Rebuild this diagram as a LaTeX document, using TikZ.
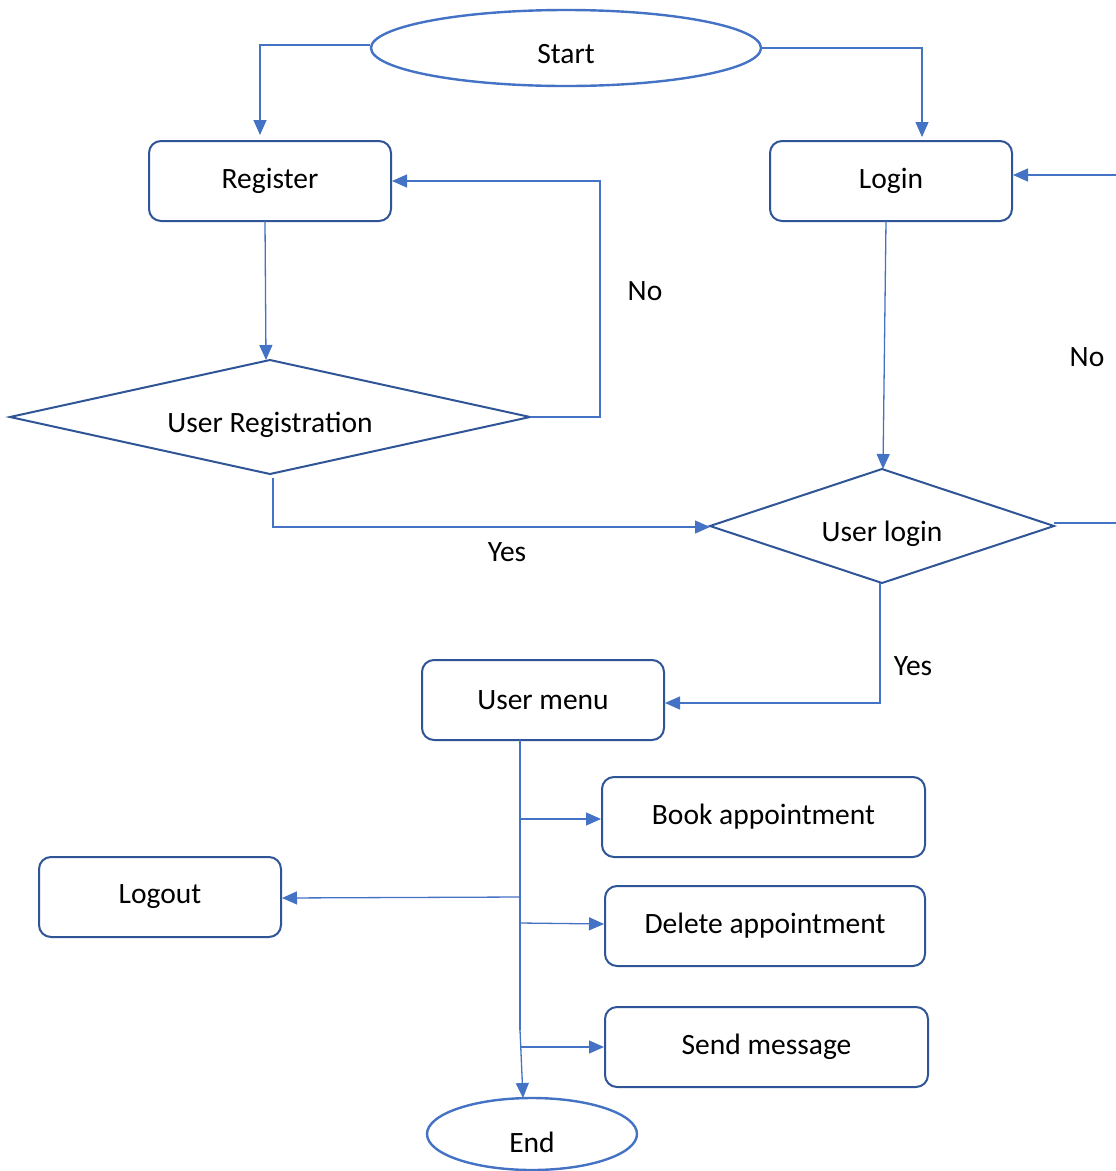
\documentclass[tikz,border=0pt]{standalone}
\usepackage{fontspec}
\setmainfont{Carlito}
\usetikzlibrary{arrows.meta,shapes.geometric}
\definecolor{edgeblue}{HTML}{4472C4}
\definecolor{boxblue}{HTML}{2F5597}
\tikzset{
  lbl/.style={font=\fontsize{29.5}{34}\selectfont, text=black},
  procbox/.style={draw=boxblue, line width=2pt, rounded corners=12pt, fill=white, lbl},
  term/.style={draw=edgeblue, line width=2.4pt, ellipse, fill=white, lbl},
  decide/.style={draw=boxblue, line width=2pt, fill=white, lbl},
  conn/.style={draw=edgeblue, line width=1.3pt, -{Triangle[length=15pt,width=13pt]}},
  plain/.style={draw=edgeblue, line width=1.3pt},
}
\begin{document}
\begin{tikzpicture}[x=1pt,y=-1pt]
\useasboundingbox (0,0) rectangle (1116,1171);
% nodes
\node[term, minimum width=390pt, minimum height=76pt] (start) at (566,48) {};
\node[lbl] (starttxt) at (566,54) {Start};
\node[procbox, minimum width=242pt, minimum height=80pt] (register) at (270,181) {};
\node[lbl] (registertxt) at (270,181) {Register};
\node[procbox, minimum width=242pt, minimum height=80pt] (login) at (891,181) {};
\node[lbl] (logintxt) at (891,181) {Login};
\draw[decide] (10,417) -- (270,360) -- (530,417) -- (270,474) -- cycle;
\node[lbl] (userreg) at (270,425) {User Registration};
\coordinate (urT) at (266,360);
\coordinate (urR) at (530,417);
\coordinate (urB) at (273,478);
\draw[decide] (710,526) -- (882,469) -- (1054,526) -- (882,583) -- cycle;
\node[lbl] (userlogin) at (882,534) {User login};
\coordinate (ulL) at (710,527);
\coordinate (ulT) at (883,469);
\coordinate (ulR) at (1054,523);
\coordinate (ulB) at (880,583);
\node[procbox, minimum width=242pt, minimum height=80pt] (menu) at (543,700) {};
\node[lbl] (menutxt) at (543,700) {User menu};
\node[procbox, minimum width=323pt, minimum height=80pt] (book) at (763.5,817) {};
\node[lbl] (booktxt) at (763.5,817) {Book appointment};
\node[procbox, minimum width=320pt, minimum height=80pt] (delete) at (765,926) {};
\node[lbl] (deletetxt) at (765,926) {Delete appointment};
\node[procbox, minimum width=323pt, minimum height=80pt] (send) at (766.5,1047) {};
\node[lbl] (sendtxt) at (766.5,1047) {Send message};
\node[procbox, minimum width=242pt, minimum height=80pt] (logout) at (160,897) {};
\node[lbl] (logouttxt) at (160,897) {Logout};
\node[term, minimum width=210pt, minimum height=72pt] (end) at (532,1134) {};
\node[lbl] (endtxt) at (532,1142) {End};
% connectors
\draw[conn] (start.west) ++(0,-3) -- (260,45) -- (260,135);
\draw[conn] (start.east) -- (922,48) -- (922,137);
\draw[conn] (265,221) -- (urT);
\draw[conn] (urR) -- (600,417) -- (600,181) -- (register.east);
\node[lbl] (no1) at (645,291) {No};
\draw[conn] (urB) -- (273,527) -- (ulL);
\node[lbl] (yes1) at (507,552) {Yes};
\draw[conn] (886,221) -- (ulT);
\coordinate (rightTop) at (1116,175);
\coordinate (rightBot) at (1116,523);
\draw[plain] (ulR) -- (rightBot);
\draw[conn] (rightTop) -- (login.east |- rightTop);
\node[lbl] (no2) at (1087,357) {No};
\draw[conn] (ulB) -- (880,703) -- (menu.east |- 0,703);
\node[lbl] (yes2) at (913,666) {Yes};
\draw[plain] (520,740) -- (520,1030);
\draw[conn] (520,1030) -- (523,1098);
\draw[conn] (520,819) -- (book.west |- 0,819);
\draw[conn] (520,923) -- (delete.west |- 0,924);
\draw[conn] (520,1047) -- (send.west |- 0,1047);
\draw[conn] (520,897) -- (logout.east |- 0,898);
\end{tikzpicture}
\end{document}
